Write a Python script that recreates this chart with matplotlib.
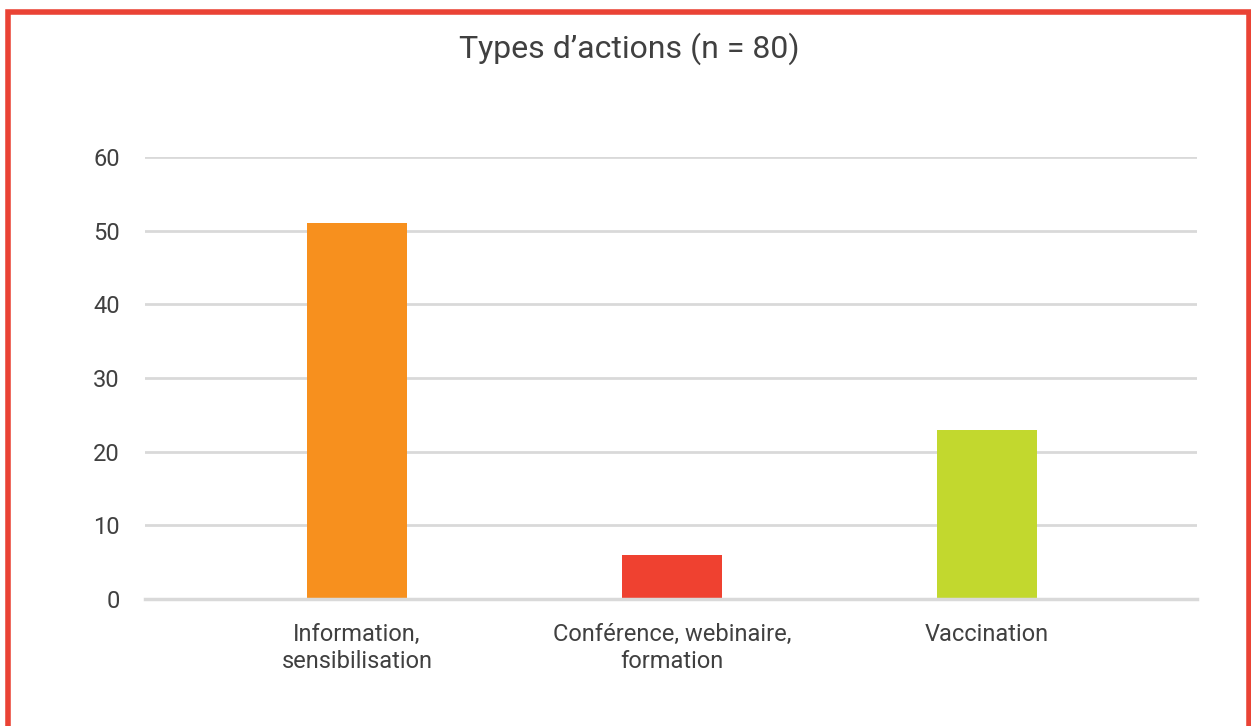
import matplotlib.pyplot as plt
from matplotlib.patches import Rectangle

plt.rcParams['font.family'] = ['Roboto', 'DejaVu Sans']

# Data
categories = ['Information,\nsensibilisation', 'Conférence, webinaire,\nformation', 'Vaccination']
values = [51, 6, 23]
colors = ['#f7901e', '#ef4130', '#c2d82e']
yticks = [0, 10, 20, 30, 40, 50, 60]

fig = plt.figure(figsize=(12.51, 7.26), dpi=100)
ax = fig.add_axes([145 / 1251, 1 - 599 / 726, (1197 - 145) / 1251, (599 - 157) / 726])

x = range(len(categories))
ax.bar(x, values, width=0.317, color=colors, zorder=3)

ax.set_xlim(-0.673, 2.667)
ax.set_ylim(0, 60)
ax.set_yticks(yticks)
ax.set_xticks(list(x))
ax.set_xticklabels(categories, fontsize=17, color='#404040', linespacing=1.25)
ax.tick_params(axis='y', labelsize=17, labelcolor='#404040', length=0, pad=18)
ax.tick_params(axis='x', length=0, pad=17)
ax.grid(axis='y', color='#d9d9d9', linewidth=2, zorder=0)
for s in ['top', 'right', 'left']:
    ax.spines[s].set_visible(False)
ax.spines['bottom'].set_color('#d9d9d9')
ax.spines['bottom'].set_linewidth(2.5)
ax.spines['bottom'].set_zorder(4)

fig.text(629 / 1251, 1 - 49 / 726, 'Types d\u2019actions (n = 80)', ha='center', va='center',
         fontsize=23, color='#404040')

# red frame (open at the bottom)
fig.patches.append(Rectangle((7.5 / 1251, -0.1), (1249 - 7.5) / 1251, 1.1 - 12.5 / 726,
                             transform=fig.transFigure, fill=False,
                             edgecolor='#ea4335', linewidth=4))

fig.savefig('out.png', dpi=100)
